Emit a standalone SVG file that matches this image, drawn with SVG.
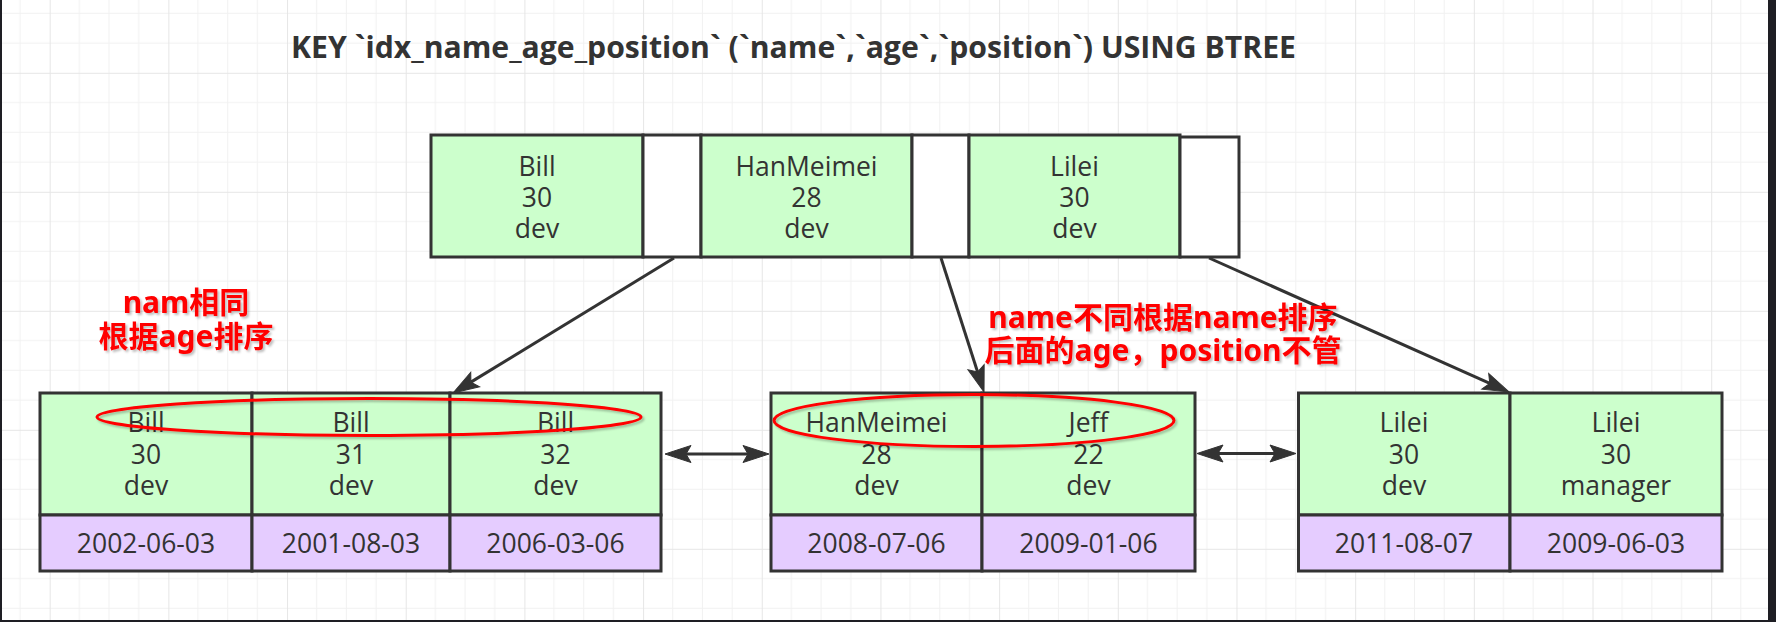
<svg xmlns="http://www.w3.org/2000/svg" width="1776" height="622" viewBox="0 0 1776 622">
<style>
.g{fill:#ccffcc;stroke:#333333;stroke-width:3}
.w{fill:#ffffff;stroke:#333333;stroke-width:3}
.p{fill:#e5ccff;stroke:#333333;stroke-width:3}
.t{font-family:'Open Sans','Liberation Sans',sans-serif;font-size:26.5px;fill:#333333;text-anchor:middle}
.title{font-family:'Open Sans','Liberation Sans',sans-serif;font-size:30px;font-weight:bold;fill:#333333}
.note{font-family:'Noto Sans','Noto Sans CJK SC',sans-serif;font-size:30px;font-weight:bold;fill:#ff0000;text-anchor:middle;filter:url(#sh)}
.conn{stroke:#333333;stroke-width:3;fill:none}
.ell{stroke:#ff0000;stroke-width:3;fill:none;filter:url(#sh)}
</style>
<defs>
<pattern id="grid" patternUnits="userSpaceOnUse" x="49.67" y="72.8" width="118.68" height="119">
<rect x="29.17" y="0" width="1" height="119" fill="#f1f1f1"/>
<rect x="58.84" y="0" width="1" height="119" fill="#f1f1f1"/>
<rect x="88.51" y="0" width="1" height="119" fill="#f1f1f1"/>
<rect x="0" y="29.25" width="118.68" height="1" fill="#f1f1f1"/>
<rect x="0" y="59" width="118.68" height="1" fill="#f1f1f1"/>
<rect x="0" y="88.75" width="118.68" height="1" fill="#f1f1f1"/>
<rect x="-0.5" y="0" width="1.5" height="119" fill="#e6e6e6"/>
<rect x="0" y="-0.5" width="118.68" height="1.5" fill="#e6e6e6"/>
</pattern>
<filter id="sh" x="-10%" y="-30%" width="120%" height="160%">
<feDropShadow dx="2" dy="2" stdDeviation="1.2" flood-color="#000000" flood-opacity="0.25"/>
</filter>
<marker id="arr" markerUnits="userSpaceOnUse" markerWidth="40" markerHeight="40" viewBox="-10 -20 40 40" refX="0" refY="0" orient="auto-start-reverse" overflow="visible">
<path d="M21,0 L-5,-8.5 L0,0 L-5,8.5 Z" fill="#333333" stroke="#333333" stroke-width="1" stroke-linejoin="miter"/>
</marker>
</defs>
<rect x="0" y="0" width="1776" height="622" fill="#ffffff"/>
<rect x="0" y="0" width="1776" height="622" fill="url(#grid)"/>

<text class="title" x="291" y="58" textLength="1005" lengthAdjust="spacingAndGlyphs">KEY `idx_name_age_position` (`name`,`age`,`position`) USING BTREE</text>

<g id="root-node">
<rect class="g" x="431" y="135" width="212" height="122"/>
<rect class="w" x="643" y="135" width="58" height="122"/>
<rect class="g" x="701" y="135" width="211" height="122"/>
<rect class="w" x="912" y="135" width="57" height="122"/>
<rect class="g" x="969" y="135" width="211" height="122"/>
<rect class="w" x="1180" y="137" width="59" height="120"/>
<text class="t" x="537" y="176">Bill<tspan x="537" y="207">30</tspan><tspan x="537" y="238">dev</tspan></text>
<text class="t" x="806.5" y="176">HanMeimei<tspan x="806.5" y="207">28</tspan><tspan x="806.5" y="238">dev</tspan></text>
<text class="t" x="1074.5" y="176">Lilei<tspan x="1074.5" y="207">30</tspan><tspan x="1074.5" y="238">dev</tspan></text>
</g>

<g id="leaf-bill">
<rect class="g" x="40" y="393" width="212" height="122"/>
<rect class="g" x="252" y="393" width="198" height="122"/>
<rect class="g" x="450" y="393" width="211" height="122"/>
<rect class="p" x="40" y="515" width="212" height="56"/>
<rect class="p" x="252" y="515" width="198" height="56"/>
<rect class="p" x="450" y="515" width="211" height="56"/>
<text class="t" x="146" y="432">Bill<tspan x="146" y="464">30</tspan><tspan x="146" y="495">dev</tspan></text>
<text class="t" x="351" y="432">Bill<tspan x="351" y="464">31</tspan><tspan x="351" y="495">dev</tspan></text>
<text class="t" x="555.5" y="432">Bill<tspan x="555.5" y="464">32</tspan><tspan x="555.5" y="495">dev</tspan></text>
<text class="t" x="146" y="553">2002-06-03</text>
<text class="t" x="351" y="553">2001-08-03</text>
<text class="t" x="555.5" y="553">2006-03-06</text>
</g>

<g id="leaf-han">
<rect class="g" x="771" y="393" width="211" height="122"/>
<rect class="g" x="982" y="393" width="213" height="122"/>
<rect class="p" x="771" y="515" width="211" height="56"/>
<rect class="p" x="982" y="515" width="213" height="56"/>
<text class="t" x="876.5" y="432">HanMeimei<tspan x="876.5" y="464">28</tspan><tspan x="876.5" y="495">dev</tspan></text>
<text class="t" x="1088.5" y="432">Jeff<tspan x="1088.5" y="464">22</tspan><tspan x="1088.5" y="495">dev</tspan></text>
<text class="t" x="876.5" y="553">2008-07-06</text>
<text class="t" x="1088.5" y="553">2009-01-06</text>
</g>

<g id="leaf-lilei">
<rect class="g" x="1298.5" y="393" width="211.5" height="122"/>
<rect class="g" x="1510" y="393" width="212" height="122"/>
<rect class="p" x="1298.5" y="515" width="211.5" height="56"/>
<rect class="p" x="1510" y="515" width="212" height="56"/>
<text class="t" x="1404" y="432">Lilei<tspan x="1404" y="464">30</tspan><tspan x="1404" y="495">dev</tspan></text>
<text class="t" x="1616" y="432">Lilei<tspan x="1616" y="464">30</tspan><tspan x="1616" y="495">manager</tspan></text>
<text class="t" x="1404" y="553">2011-08-07</text>
<text class="t" x="1616" y="553">2009-06-03</text>
</g>

<g id="connectors">
<path class="conn" d="M674,258 L470.9,382.1" marker-end="url(#arr)"/>
<path class="conn" d="M941,258 L977.6,372" marker-end="url(#arr)"/>
<path class="conn" d="M1209,258 L1489.8,383.4" marker-end="url(#arr)"/>
<path class="conn" d="M686,454 L748,454" marker-start="url(#arr)" marker-end="url(#arr)"/>
<path class="conn" d="M1218,453.5 L1275,453.5" marker-start="url(#arr)" marker-end="url(#arr)"/>
</g>

<g id="highlights">
<ellipse class="ell" cx="369" cy="417" rx="272" ry="18.5"/>
<ellipse class="ell" cx="974" cy="420.5" rx="200" ry="26"/>
</g>

<g id="note-same-name">
<text class="note" x="186" y="313">nam相同<tspan x="186" y="347">根据age排序</tspan></text>
</g>
<g id="note-diff-name">
<text class="note" x="1163" y="328">name不同根据name排序<tspan x="1163" y="361">后面的age，position不管</tspan></text>
</g>

<g id="frame">
<rect x="0" y="0" width="2" height="622" fill="#1e1e24"/>
<rect x="1768" y="0" width="8" height="622" fill="#1e1e24"/>
<rect x="0" y="620" width="1776" height="2" fill="#1e1e24"/>
</g>
</svg>
